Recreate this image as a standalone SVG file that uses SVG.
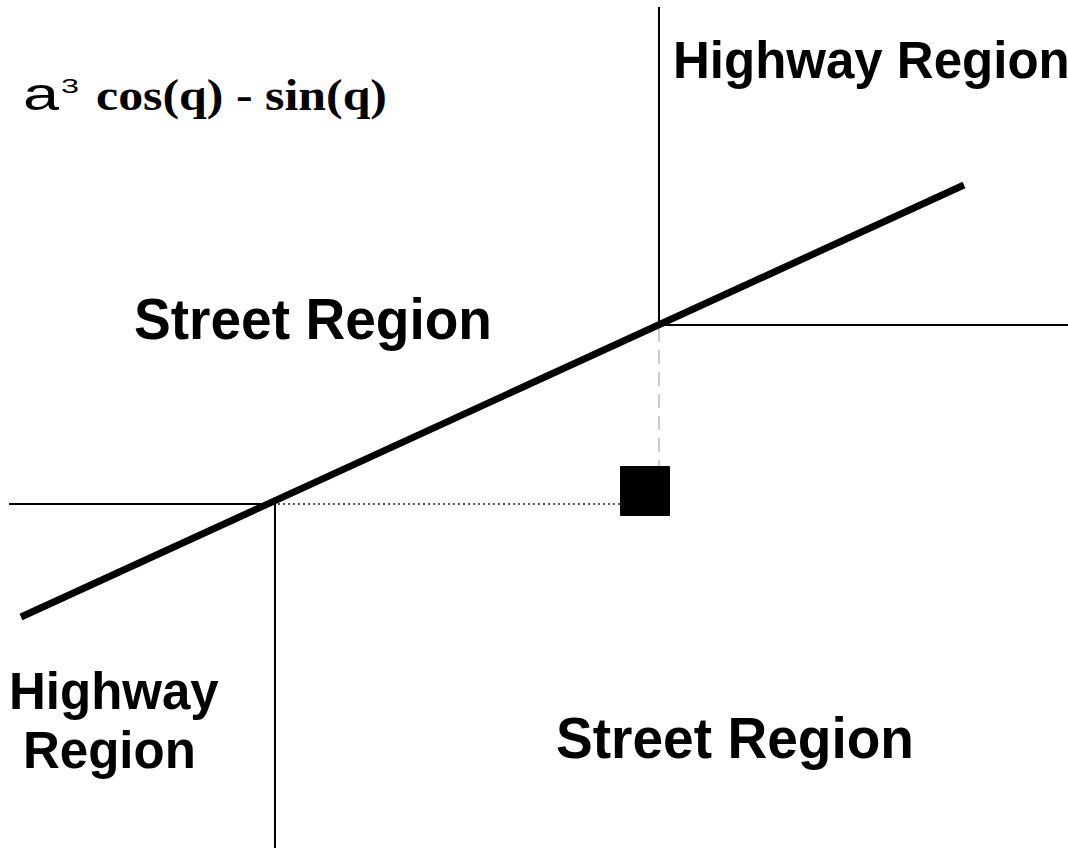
<svg xmlns="http://www.w3.org/2000/svg" width="1068" height="848" viewBox="0 0 1068 848">
  <style>
    .axis { stroke: #000; stroke-width: 2; fill: none; }
    .label { font-family: "Liberation Sans", Arial, sans-serif; font-weight: bold; font-size: 51px; fill: #000; }
    .street { font-size: 57px; }
    .formula { font-family: "Liberation Serif", "Times New Roman", serif; font-weight: bold; font-size: 44px; fill: #000; }
    .sym { font-family: "Liberation Sans", Arial, sans-serif; font-weight: normal; fill: #000; }
  </style>
  <rect width="1068" height="848" fill="#fff"/>

  <g id="connectors">
    <!-- region boundaries -->
    <line class="axis" x1="659" y1="7" x2="659" y2="325"/>
    <line class="axis" x1="659" y1="325" x2="1068" y2="325"/>
    <line class="axis" x1="9" y1="504" x2="275" y2="504"/>
    <line class="axis" x1="275" y1="504" x2="275" y2="848"/>
    <!-- projections -->
    <line x1="659" y1="328" x2="659" y2="466" stroke="#bbb" stroke-width="1.5" stroke-dasharray="14,8"/>
    <line x1="278" y1="504" x2="620" y2="504" stroke="#555" stroke-width="2" stroke-dasharray="2,3"/>
    <!-- boundary line -->
    <line x1="21" y1="617" x2="964" y2="185" stroke="#000" stroke-width="7"/>
  </g>

  <g id="point">
    <rect x="620" y="466" width="50" height="50" rx="1" fill="#000"/>
  </g>

  <g id="formula">
    <text x="23" y="110" class="sym" font-size="47" textLength="36" lengthAdjust="spacingAndGlyphs">a</text>
    <text x="61" y="93" class="sym" font-size="20" textLength="18" lengthAdjust="spacingAndGlyphs">3</text>
    <text x="96" y="110" class="formula" textLength="291" lengthAdjust="spacingAndGlyphs">cos(q) - sin(q)</text>
  </g>

  <g id="highway-top">
    <text x="673" y="78" class="label">Highway Region</text>
  </g>
  <g id="street-top">
    <text x="134" y="339" class="label street" textLength="358" lengthAdjust="spacingAndGlyphs">Street Region</text>
  </g>
  <g id="highway-bottom">
    <text x="9" y="709" class="label">Highway</text>
    <text x="23" y="768" class="label">Region</text>
  </g>
  <g id="street-bottom">
    <text x="556" y="758" class="label street" textLength="358" lengthAdjust="spacingAndGlyphs">Street Region</text>
  </g>
</svg>
